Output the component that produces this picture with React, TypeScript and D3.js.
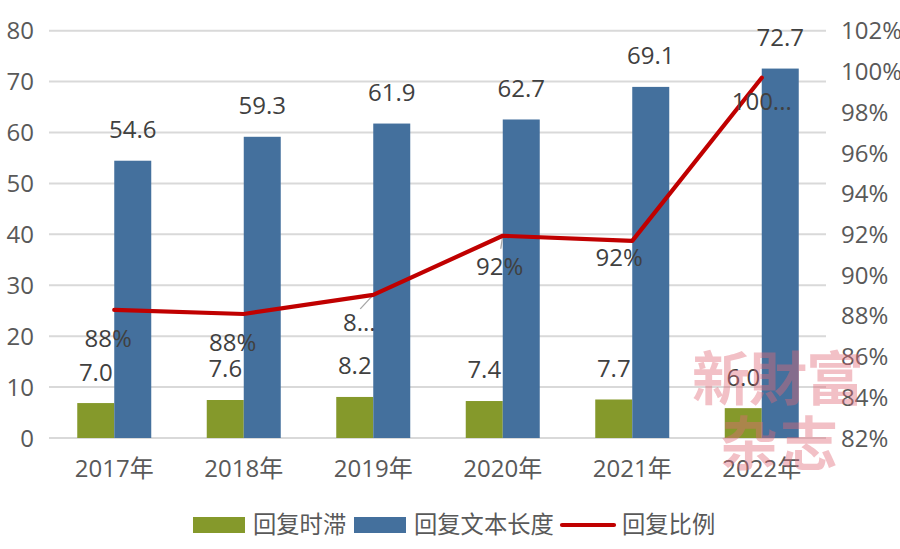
import React from "react";
import * as d3 from "d3";

const categories = ["2017年", "2018年", "2019年", "2020年", "2021年", "2022年"];
const delay = [7.0, 7.6, 8.2, 7.4, 7.7, 6.0];
const textLength = [54.6, 59.3, 61.9, 62.7, 69.1, 72.7];
const ratio = [88.29, 88.09, 89.03, 91.93, 91.68, 99.69];
const ratioLabels = ["88%", "88%", "8...", "92%", "92%", "100..."];
const leftTicks = [0, 10, 20, 30, 40, 50, 60, 70, 80];
const rightTicks = [82, 84, 86, 88, 90, 92, 94, 96, 98, 100, 102];
const seriesNames = ["回复时滞", "回复文本长度", "回复比例"];

const GREEN = "#85992b";
const BLUE = "#44709d";
const RED = "#c00000";
const GRID = "#d9d9d9";
const AXIS_TEXT = "#595959";
const LABEL_TEXT = "#404040";
const FONT = "'Open Sans','Noto Sans CJK SC',sans-serif";
const FS = 24;

// label offsets from the point (layout only)
const ratioOffset: [number, number][] = [
  [-6, 28], [-11, 28], [-14, 28], [-3, 31], [-13, 16], [0, 24],
];
const leaderEnd: ([number, number] | null)[] = [null, null, [-13, 14], [-2, 13], null, null];

export default function App() {
  const x = d3.scaleBand<string>().domain(categories).range([49.5, 826.5]);
  const yL = d3.scaleLinear().domain([0, 80]).range([438, 30.7]);
  const yR = d3.scaleLinear().domain([82, 102]).range([438, 30.7]);
  const barW = 37;
  const barShift = 0.7;
  const cx = (c: string) => (x(c) as number) + x.bandwidth() / 2;
  const line = d3
    .line<number>()
    .x((_, i) => cx(categories[i]))
    .y((d) => yR(d));

  return (
    <svg
      width={900}
      height={549}
      style={{ position: "absolute", left: 0, top: 0, background: "#fff" }}
      fontFamily={FONT}
      fontSize={FS}
    >
      {leftTicks.map((t) => (
        <line key={t} x1={49} x2={826} y1={yL(t)} y2={yL(t)} stroke={GRID} strokeWidth={2} />
      ))}
      {leftTicks.map((t) => (
        <text key={t} x={34} y={yL(t)} dy="0.36em" textAnchor="end" fill={AXIS_TEXT}>
          {t}
        </text>
      ))}
      {rightTicks.map((t) => (
        <text key={t} x={841} y={yR(t)} dy="0.36em" fill={AXIS_TEXT}>
          {t}%
        </text>
      ))}
      {categories.map((c) => (
        <text key={c} x={cx(c)} y={468} dy="0.36em" textAnchor="middle" fill={AXIS_TEXT}>
          {c}
        </text>
      ))}
      {categories.map((c, i) => (
        <g key={c}>
          <rect x={cx(c) - barW} y={yL(delay[i]) + barShift} width={barW} height={438 - yL(delay[i]) - barShift} fill={GREEN} />
          <rect x={cx(c)} y={yL(textLength[i]) + barShift} width={barW} height={438 - yL(textLength[i]) - barShift} fill={BLUE} />
          <text x={cx(c) - barW / 2} y={yL(delay[i]) - 30.5} dy="0.36em" textAnchor="middle" fill={LABEL_TEXT}>
            {delay[i].toFixed(1)}
          </text>
          <text x={cx(c) + barW / 2} y={yL(textLength[i]) - 30.5} dy="0.36em" textAnchor="middle" fill={LABEL_TEXT}>
            {textLength[i].toFixed(1)}
          </text>
        </g>
      ))}
      {categories.map((c, i) => {
        const e = leaderEnd[i];
        return e ? (
          <line
            key={c}
            x1={cx(c)}
            y1={yR(ratio[i])}
            x2={cx(c) + e[0]}
            y2={yR(ratio[i]) + e[1]}
            stroke="#a6a6a6"
            strokeWidth={1.3}
          />
        ) : null;
      })}
      <path d={line(ratio) as string} fill="none" stroke={RED} strokeWidth={4.2} strokeLinejoin="round" strokeLinecap="round" />
      {categories.map((c, i) => (
        <text
          key={c}
          x={cx(c) + ratioOffset[i][0]}
          y={yR(ratio[i]) + ratioOffset[i][1]}
          dy="0.36em"
          textAnchor="middle"
          fill={LABEL_TEXT}
        >
          {ratioLabels[i]}
        </text>
      ))}
      <g fontSize={23.3}>
        <rect x={193} y={517} width={52} height={16} fill={GREEN} />
        <text x={253} y={525} dy="0.36em" fill={AXIS_TEXT}>{seriesNames[0]}</text>
        <rect x={354} y={517} width={52} height={16} fill={BLUE} />
        <text x={414} y={525} dy="0.36em" fill={AXIS_TEXT}>{seriesNames[1]}</text>
        <line x1={562} x2={614} y1={525} y2={525} stroke={RED} strokeWidth={4.2} strokeLinecap="round" />
        <text x={622} y={525} dy="0.36em" fill={AXIS_TEXT}>{seriesNames[2]}</text>
      </g>
      <g fill="#e06a78" fillOpacity={0.42} fontWeight={700} fontSize={58} fontFamily="'Noto Sans CJK TC','Noto Sans CJK SC',serif">
        <text x={692} y={400} textLength={172}>新財富</text>
        <text x={720} y={465} textLength={118}>杂志</text>
      </g>
    </svg>
  );
}
